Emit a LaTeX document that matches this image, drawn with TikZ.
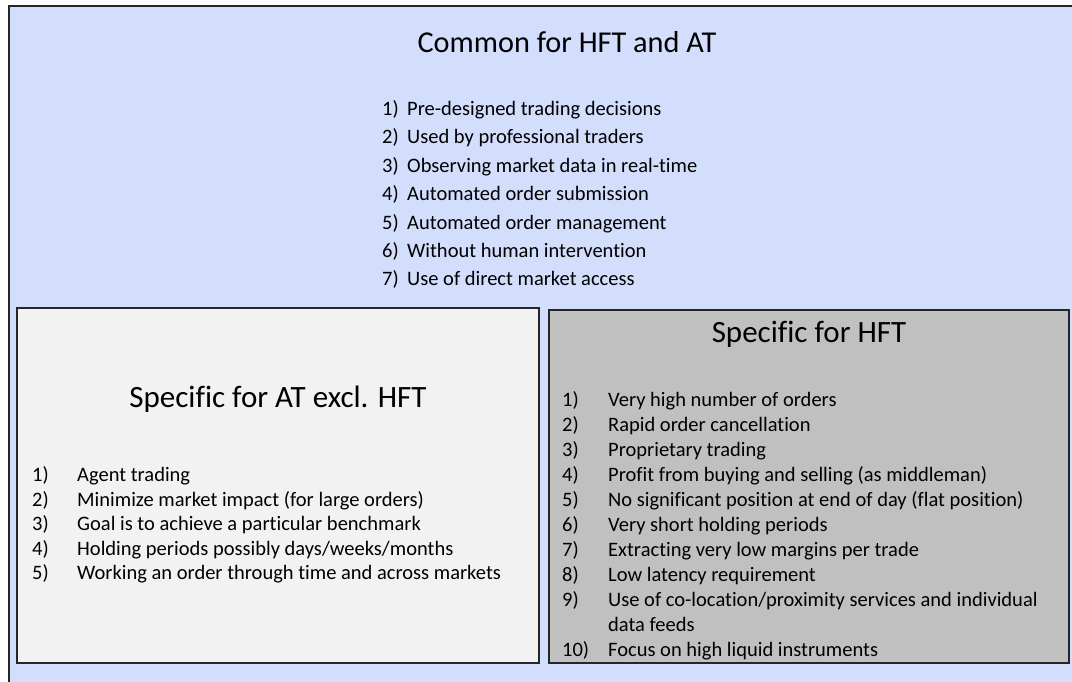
\documentclass[tikz,border=0pt]{standalone}
\usepackage{fontspec}
\setmainfont{Carlito}[Ligatures=NoCommon]
\usepackage{tikz}

\definecolor{commonblue}{RGB}{211,222,252}
\definecolor{atgray}{RGB}{242,242,242}
\definecolor{hftgray}{RGB}{192,192,192}
\newcommand\itemno[2]{\makebox[#1][l]{#2}}

\begin{document}
\begin{tikzpicture}[x=1pt,y=-1pt,
  headtext/.style={font=\fontsize{31}{37}\selectfont,inner sep=0pt,anchor=base},
  itemtext/.style={font=\fontsize{20.5}{24}\selectfont,inner sep=0pt,anchor=base west},
  panel/.style={draw=black!85,line width=1.4pt}]
  \useasboundingbox (0,0) rectangle (1072,682);

  \draw [panel,fill=commonblue] (9,6) rectangle (1090,700);
  \draw [panel,fill=atgray] (17,308) rectangle (539,663);
  \draw [panel,fill=hftgray] (549,310) rectangle (1069,663);

  % common part
  \node [headtext,font=\fontsize{30.3}{36}\selectfont] (common) at (567,53) {Common for HFT and AT};
  \node [itemtext] (c1) at (382,115.5) {\itemno{25pt}{1)}Pre-designed trading decisions};
  \node [itemtext] (c2) at (382,143.9) {\itemno{25pt}{2)}Used by professional traders};
  \node [itemtext] (c3) at (382,172.3) {\itemno{25pt}{3)}Observing market data in real-time};
  \node [itemtext] (c4) at (382,200.7) {\itemno{25pt}{4)}Automated order submission};
  \node [itemtext] (c5) at (382,229.1) {\itemno{25pt}{5)}Automated order management};
  \node [itemtext] (c6) at (382,257.5) {\itemno{25pt}{6)}Without human intervention};
  \node [itemtext] (c7) at (382,285.9) {\itemno{25pt}{7)}Use of direct market access};

  % AT without HFT
  \node [headtext] (at) at (278,407) {Specific for AT excl. HFT};
  \node [itemtext] (a1) at (32,481.5) {\itemno{45pt}{1)}Agent trading};
  \node [itemtext] (a2) at (32,506) {\itemno{45pt}{2)}Minimize market impact (for large orders)};
  \node [itemtext] (a3) at (32,530.5) {\itemno{45pt}{3)}Goal is to achieve a particular benchmark};
  \node [itemtext] (a4) at (32,555) {\itemno{45pt}{4)}Holding periods possibly days/weeks/months};
  \node [itemtext] (a5) at (32,579.5) {\itemno{45pt}{5)}Working an order through time and across markets};

  % HFT
  \node [headtext] (hft) at (809,342) {Specific for HFT};
  \node [itemtext] (h1) at (562,406.5) {\itemno{46pt}{1)}Very high number of orders};
  \node [itemtext] (h2) at (562,431.5) {\itemno{46pt}{2)}Rapid order cancellation};
  \node [itemtext] (h3) at (562,456.5) {\itemno{46pt}{3)}Proprietary trading};
  \node [itemtext] (h4) at (562,481.5) {\itemno{46pt}{4)}Profit from buying and selling (as middleman)};
  \node [itemtext] (h5) at (562,506.5) {\itemno{46pt}{5)}No significant position at end of day (flat position)};
  \node [itemtext] (h6) at (562,531.5) {\itemno{46pt}{6)}Very short holding periods};
  \node [itemtext] (h7) at (562,556.5) {\itemno{46pt}{7)}Extracting very low margins per trade};
  \node [itemtext] (h8) at (562,581.5) {\itemno{46pt}{8)}Low latency requirement};
  \node [itemtext] (h9) at (562,606.5) {\itemno{46pt}{9)}Use of co-location/proximity services and individual};
  \node [itemtext] (h9b) at (608,631.5) {data feeds};
  \node [itemtext] (h10) at (562,656.5) {\itemno{46pt}{10)}Focus on high liquid instruments};
\end{tikzpicture}
\end{document}
